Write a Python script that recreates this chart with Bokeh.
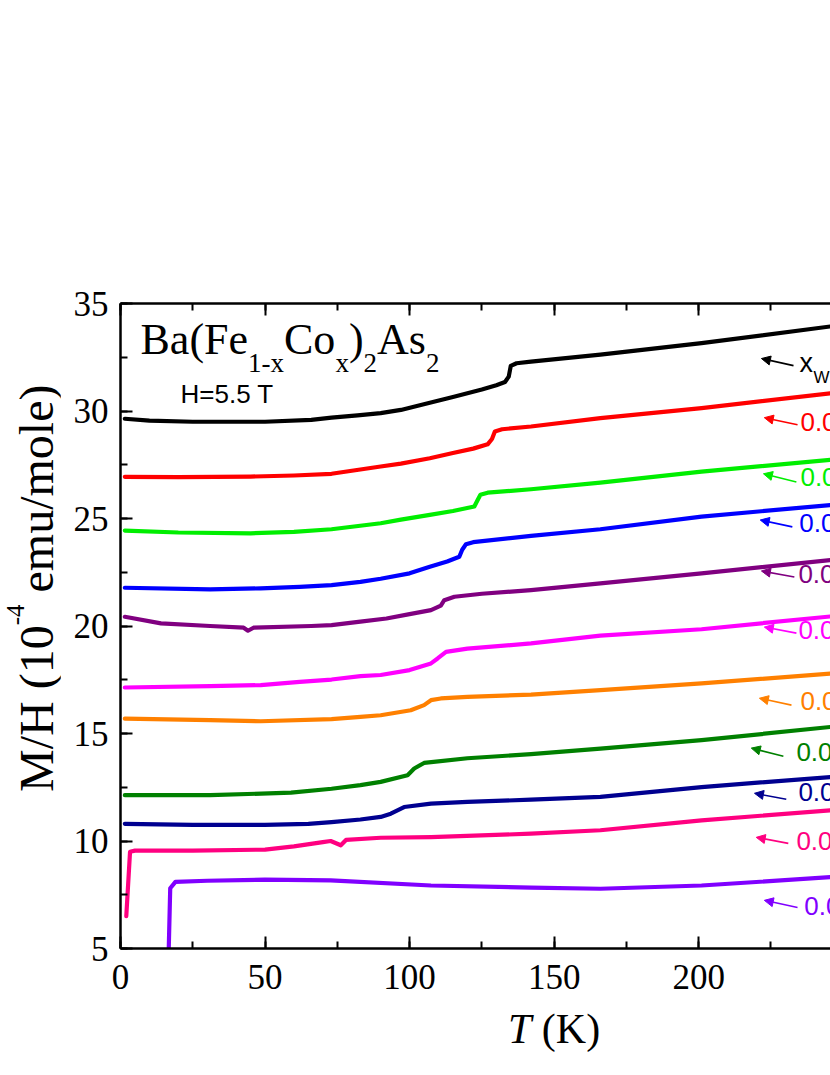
from bokeh.plotting import figure
from bokeh.layouts import row, column
from bokeh.models import (Label, Arrow, NormalHead, SingleIntervalTicker, LinearAxis,
                          CustomJSTickFormatter, ColumnDataSource, Div)
from bokeh.core.properties import value
from bokeh.embed import file_html
from bokeh.resources import INLINE

# ---------------- data ----------------
T_0 = [1.5, 10, 25, 50, 66, 73, 82, 90, 97, 107, 115, 125, 130, 133, 134.3, 135, 137, 142, 166, 201, 246]
M_0 = [29.64, 29.55, 29.5, 29.5, 29.59, 29.69, 29.8, 29.9, 30.05, 30.38, 30.65, 31.0, 31.2, 31.35, 31.6, 32.1, 32.22, 32.3, 32.62, 33.16, 33.94]

T_1 = [1.5, 20, 45, 60, 73, 90, 97, 107, 115, 122, 127, 128.5, 129.5, 132, 142, 166, 201, 246]
M_1 = [26.94, 26.92, 26.95, 27.0, 27.08, 27.42, 27.55, 27.8, 28.05, 28.25, 28.45, 28.7, 29.05, 29.15, 29.28, 29.67, 30.13, 30.83]

T_2 = [1.5, 20, 45, 60, 73, 90, 97, 107, 115, 122.4, 123.5, 124.5, 127, 142, 166, 201, 246]
M_2 = [24.44, 24.35, 24.31, 24.38, 24.5, 24.78, 24.95, 25.17, 25.35, 25.56, 25.85, 26.1, 26.2, 26.36, 26.67, 27.18, 27.73]

T_3 = [1.5, 31, 48.5, 62, 73, 83, 90, 100, 107, 113, 117.2, 118.2, 119.5, 122, 142, 166, 201, 246]
M_3 = [21.78, 21.7, 21.75, 21.82, 21.9, 22.05, 22.2, 22.45, 22.76, 23.0, 23.22, 23.55, 23.8, 23.9, 24.19, 24.5, 25.09, 25.63]

T_4 = [1.5, 14, 31, 42.6, 44.1, 46, 66, 73, 83, 92, 100, 107.4, 110.8, 112, 115.5, 125, 142, 166, 201, 246]
M_4 = [20.43, 20.12, 20.0, 19.92, 19.78, 19.92, 20.0, 20.04, 20.2, 20.35, 20.55, 20.74, 20.95, 21.2, 21.36, 21.5, 21.67, 21.98, 22.45, 23.07]

T_5 = [1.5, 31, 48.5, 62, 73, 83, 90, 100, 107.4, 109.7, 112.6, 120, 142, 166, 201, 246]
M_5 = [17.14, 17.2, 17.25, 17.4, 17.51, 17.67, 17.72, 17.95, 18.26, 18.49, 18.8, 18.95, 19.19, 19.55, 19.85, 20.45]

T_6 = [1.5, 31, 48.5, 73, 83, 90, 100.4, 105, 107.4, 110.8, 120, 142, 166, 201, 246]
M_6 = [15.69, 15.62, 15.57, 15.67, 15.77, 15.85, 16.08, 16.32, 16.55, 16.63, 16.7, 16.81, 17.02, 17.33, 17.79]

T_7 = [1.5, 31, 59, 73, 83, 90, 99.3, 101.6, 105, 120, 142, 166, 201, 246]
M_7 = [12.13, 12.13, 12.25, 12.43, 12.6, 12.75, 13.06, 13.37, 13.63, 13.85, 14.04, 14.3, 14.69, 15.31]

T_8 = [1.5, 25, 50, 65, 73, 83, 90, 93.5, 98.1, 107.4, 120, 142, 166, 201, 246]
M_8 = [10.8, 10.75, 10.75, 10.8, 10.88, 11.0, 11.12, 11.27, 11.58, 11.74, 11.82, 11.92, 12.05, 12.51, 12.98]

T_9 = [2.0, 3.3, 5, 25, 50, 60, 70, 72.7, 76.2, 78, 90, 107.4, 142, 166, 201, 246]
M_9 = [6.5, 9.5, 9.55, 9.55, 9.6, 9.75, 9.95, 10.0, 9.8, 10.05, 10.15, 10.18, 10.34, 10.5, 10.96, 11.43]

T_10 = [16.6, 17.2, 19, 30, 50, 72.7, 107.4, 142, 166, 201, 246]
M_10 = [4.5, 7.8, 8.1, 8.15, 8.2, 8.17, 7.93, 7.83, 7.78, 7.93, 8.32]

series_T = [T_0, T_1, T_2, T_3, T_4, T_5, T_6, T_7, T_8, T_9, T_10]
series_M = [M_0, M_1, M_2, M_3, M_4, M_5, M_6, M_7, M_8, M_9, M_10]
colors = ["#000000", "#ff0000", "#00ee00", "#0000ff", "#800080", "#ff00ff",
          "#ff8000", "#008000", "#000090", "#ff0080", "#8000ff"]
labels = ["x", "0.012", "0.016", "0.021", "0.025", "0.028", "0.033", "0.036", "0.038", "0.041", "0.047"]

x_ticks_interval = 50
y_ticks_interval = 5

# annotation positions (data units)
label_x = [234.9, 235.2, 235.2, 234.8, 234.5, 234.5, 235.2, 233.8, 234.5, 233.8, 236.5]
label_y = [32.23, 29.5, 26.94, 24.8, 22.42, 19.81, 16.5, 14.13, 12.27, 9.98, 6.96]
sub_label_x, sub_label_y = 239.7, 31.56
arrow_x0 = [232.8, 234.2, 233.8, 232.4, 233.1, 233.8, 232.1, 229.3, 230.3, 231.0, 234.2]
arrow_y0 = [32.11, 29.36, 26.70, 24.61, 22.28, 19.67, 16.32, 13.94, 11.94, 9.89, 6.91]
arrow_x1 = [221.7, 222.7, 222.4, 221.3, 221.7, 222.7, 221.0, 218.2, 219.3, 219.9, 222.7]
arrow_y1 = [32.44, 29.69, 27.08, 24.93, 22.56, 19.95, 16.64, 14.32, 12.22, 10.17, 7.24]

SERIF = "Liberation Serif"
SANS = "Liberation Sans"

# ---------------- layout sizes ----------------
YL_W = 60
TOTAL_H = 1070
MAIN_W, MAIN_H = 770, 1008
XL_H = TOTAL_H - MAIN_H
LEFT, TOP, BOTTOM = 60, 303, 60
XMAX = 245.6

# ---------------- main figure ----------------
p = figure(width=MAIN_W, height=MAIN_H, x_range=(0, XMAX), y_range=(5, 35),
           output_backend="svg", toolbar_location=None,
           min_border_left=LEFT, min_border_right=0, min_border_top=TOP,
           min_border_bottom=BOTTOM)
p.outline_line_color = None
p.xgrid.visible = False
p.ygrid.visible = False
p.background_fill_color = "white"
p.border_fill_color = "white"

px_per_K = (MAIN_W - LEFT) / XMAX
px_per_M = (MAIN_H - TOP - BOTTOM) / 30.0

def style_axis(ax):
    ax.axis_line_width = 2.5
    ax.axis_line_color = "black"
    ax.major_tick_line_width = 2
    ax.minor_tick_line_width = 2
    ax.major_tick_in = 12
    ax.major_tick_out = 0
    ax.minor_tick_in = 7
    ax.minor_tick_out = 0
    ax.major_label_text_font = SERIF
    ax.major_label_text_font_size = "35px"
    ax.major_label_text_color = "black"

p.xaxis.ticker = SingleIntervalTicker(interval=x_ticks_interval, num_minor_ticks=2)
p.yaxis.ticker = SingleIntervalTicker(interval=y_ticks_interval, num_minor_ticks=2)
style_axis(p.xaxis[0])
style_axis(p.yaxis[0])
p.xaxis.major_label_standoff = 16
p.yaxis.major_label_standoff = 12

top_ax = LinearAxis(ticker=SingleIntervalTicker(interval=x_ticks_interval, num_minor_ticks=2),
                    formatter=CustomJSTickFormatter(code="return ''"))
style_axis(top_ax)
p.add_layout(top_ax, "above")

# curves
for Ts, Ms, c in zip(series_T, series_M, colors):
    src = ColumnDataSource(dict(T=Ts, M=Ms))
    p.line("T", "M", source=src, line_color=c, line_width=4.2,
           line_join="round", line_cap="round")

# right-side labels
src_lab = ColumnDataSource(dict(x=label_x[1:], y=label_y[1:], t=labels[1:], c=colors[1:]))
p.text("x", "y", text="t", source=src_lab, text_color="c",
       text_font=value(SANS), text_font_size="26px", text_baseline="middle", text_align="left")
p.text([label_x[0]], [label_y[0]], text=[labels[0]], text_color="black",
       text_font=value(SANS), text_font_size="27px", text_baseline="middle")
p.text([sub_label_x], [sub_label_y], text=["WDS"], text_color="black",
       text_font=value(SANS), text_font_size="17px", text_baseline="middle")

for x0, y0, x1, y1, c in zip(arrow_x0, arrow_y0, arrow_x1, arrow_y1, colors):
    p.add_layout(Arrow(end=NormalHead(size=9, fill_color=c, line_color=c, line_width=1),
                       x_start=x0, y_start=y0, x_end=x1, y_end=y1,
                       line_color=c, line_width=1.6))

# title Ba(Fe1-xCox)2As2
TW = {"B": 667, "a": 444, "(": 333, "F": 556, "e": 444, "1": 500, "-": 333, "x": 500,
      "C": 667, "o": 500, ")": 333, "2": 500, "A": 722, "s": 389}
def width(s, size):
    return sum(TW[ch] for ch in s) / 1000.0 * size

pieces = [("Ba(Fe", False), ("1-x", True), ("Co", False), ("x", True), (")", False),
          ("2", True), ("As", False), ("2", True)]
MAIN, SUB = 44, 27
title_x = 20 / px_per_K
title_y = 33.32      # vertical middle of the main line
sub_y = 32.21        # vertical middle of the subscripts
off = 0.0
for s, is_sub in pieces:
    size = SUB if is_sub else MAIN
    p.add_layout(Label(x=title_x, y=sub_y if is_sub else title_y, x_offset=off, text=s,
                       text_font=SERIF, text_font_size=f"{size}px", text_color="black",
                       text_baseline="middle"))
    off += width(s, size)

p.add_layout(Label(x=60 / px_per_K, y=30.77, text="H=5.5 T", text_font=SANS,
                   text_font_size="26px", text_color="black", text_baseline="middle"))

# ---------------- axis titles (HTML, so that super-script / italics are real text) ----------------
ylab_html = (
    f'<div style="position:relative;width:{YL_W}px;height:{TOTAL_H}px;">'
    '<div style="position:absolute;left:12.8px;top:792px;transform-origin:0 0;'
    'transform:rotate(-90deg);white-space:nowrap;font-family:\'Liberation Serif\';'
    'font-size:48px;line-height:48px;color:black;">'
    'M/H (10<span style="font-size:25px;position:relative;top:-29px;">-4</span> emu/mole)'
    '</div></div>'
)
xlab_html = (
    f'<div style="position:relative;width:{MAIN_W}px;height:{XL_H}px;">'
    '<div style="position:absolute;left:448px;top:0px;white-space:nowrap;'
    'font-family:\'Liberation Serif\';font-size:42px;line-height:42px;color:black;">'
    '<i>T</i> (K)</div></div>'
)
yl = Div(text=ylab_html, width=YL_W, height=TOTAL_H, margin=(0, 0, 0, 0))
xl = Div(text=xlab_html, width=MAIN_W, height=XL_H, margin=(0, 0, 0, 0))

layout = row(yl, column(p, xl, spacing=0), spacing=0)
open("out.html", "w").write(file_html(layout, INLINE))
